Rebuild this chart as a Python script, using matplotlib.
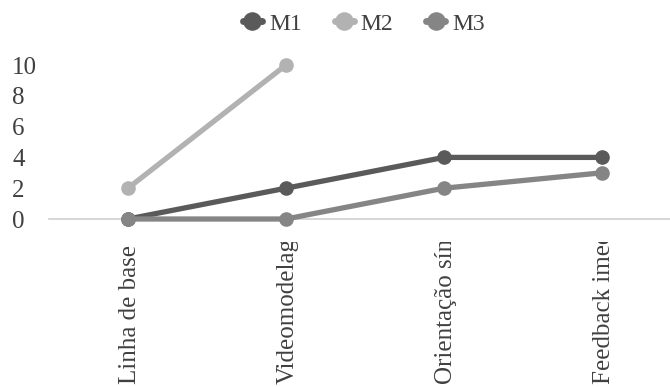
import numpy as np
import matplotlib
matplotlib.use("Agg")
import matplotlib.pyplot as plt
from matplotlib.transforms import Bbox, blended_transform_factory

categories = ["Linha de base", "Videomodelag", "Orientação sín", "Feedback imed"]
m1 = [0, 2, 4, 4]
m2 = [2, 10, np.nan, np.nan]
m3 = [0, 0, 2, 3]
yticks = [0, 2, 4, 6, 8, 10]

plt.rcParams["font.family"] = ["Liberation Serif", "DejaVu Serif"]

W, H = 670, 387
fig = plt.figure(figsize=(W / 100, H / 100), dpi=100)
ax = fig.add_axes([49 / W, (H - 219) / H, 632 / W, 154 / H])

x = np.arange(len(categories))
series = [("M1", m1, "#5a5a5a"), ("M2", m2, "#b2b2b2"), ("M3", m3, "#858585")]
for name, vals, col in series:
    ax.plot(x, vals, color=col, lw=3.8, marker="o", ms=9.5,
            solid_capstyle="round", label=name, clip_on=False, zorder=3)

ax.set_xlim(-0.5, len(categories) - 0.5)
ax.set_ylim(0, 10)
ax.set_yticks(yticks)
ax.set_yticklabels([str(t) for t in yticks], fontsize=18, color="#404040")
for lbl in ax.get_yticklabels():
    lbl.set_horizontalalignment("left")
ax.tick_params(axis="y", length=0, pad=26.5)
ax.set_xticks(x)
ax.set_xticklabels([])
ax.tick_params(axis="x", length=0)

for s in ["top", "right", "left"]:
    ax.spines[s].set_visible(False)
ax.spines["bottom"].set_color("#d0d0d0")
ax.spines["bottom"].set_linewidth(1.2)
ax.spines["bottom"].set_zorder(1)

# rotated category labels, cut off at a fixed band below the axis
trans = blended_transform_factory(ax.transData, fig.transFigure)
clip = Bbox.from_extents(0, 0, W, H - 242)
for xi, cat in zip(x, categories):
    t = ax.text(xi + 0.01, 3 / H, cat, rotation=90, ha="center", va="bottom",
                fontsize=18, color="#404040", transform=trans)
    t.set_clip_box(clip)
    t.set_clip_on(True)

leg = fig.legend(loc="center", bbox_to_anchor=(364 / W, 1 - 24 / H), ncol=3,
                 frameon=False, fontsize=17, handlelength=0.8, handletextpad=0.3,
                 columnspacing=1.4, labelcolor="#404040", markerscale=1.3)
for h in leg.legend_handles:
    h.set_linewidth(5)

fig.savefig("out.png", dpi=100)
